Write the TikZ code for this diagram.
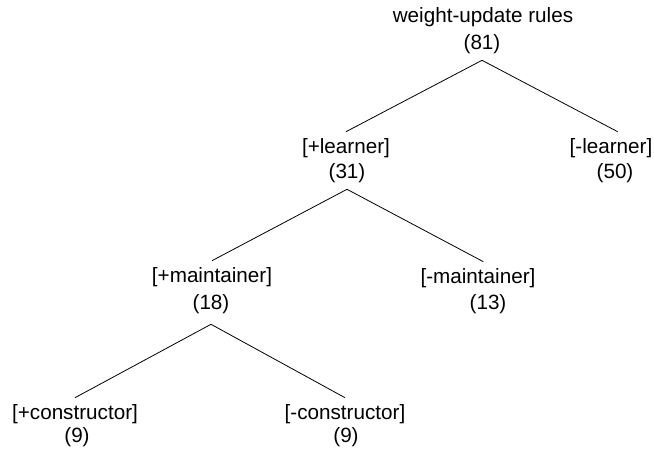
\documentclass[tikz,border=0pt]{standalone}
\usepackage{fontspec}
\setmainfont{Liberation Sans}

\begin{document}
\begin{tikzpicture}[x=0.75pt, y=-0.75pt,
  every node/.style = {inner sep=0pt, outer ysep=5pt, font=\fontsize{15.5}{18}\selectfont},
  edge/.style = {line width=0.6pt}]
\useasboundingbox (0,0) rectangle (654,450);
% labels
\path (483,17) node (root) {weight-update rules};
\path (482,44) node (n81) {(81)};
\path (346,148) node (pl) {[+learner]};
\path (347,173) node (n31) {(31)};
\path (611,148) node (ml) {[-learner]};
\path (615,173) node (n50) {(50)};
\path (212,277) node (pm) {[+maintainer]};
\path (211,304) node (n18) {(18)};
\path (478,278) node (mm) {[-maintainer]};
\path (488,304) node (n13) {(13)};
\path (75,414) node (pc) {[+constructor]};
\path (77,437) node (n9a) {(9)};
\path (345,414) node (mc) {[-constructor]};
\path (346,437) node (n9b) {(9)};
% branches
\draw[edge] (pl.north) -- (n81.south) -- ([xshift=5pt]ml.north);
\draw[edge] (pm.north) -- (n31.south) -- ([xshift=4pt]mm.north);
\draw[edge] (pc.north) -- ([yshift=-3pt]n18.south) -- (mc.north);
\end{tikzpicture}
\end{document}
